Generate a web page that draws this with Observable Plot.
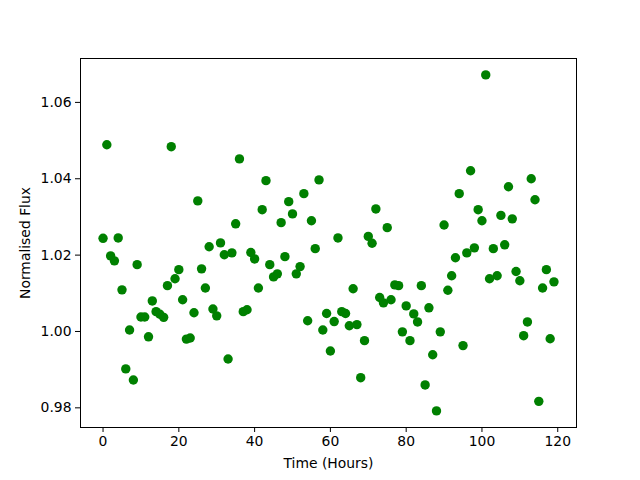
<!DOCTYPE html>
<html><head><meta charset="utf-8">
<script src="https://cdn.jsdelivr.net/npm/d3@7"></script>
<script src="https://cdn.jsdelivr.net/npm/@observablehq/plot@0.6"></script>
<style>body{margin:0;background:#fff}</style>
</head><body><div id="chart"></div>
<script>
const hours = [0,1,2,3,4,5,6,7,8,9,10,11,12,13,14,15,16,17,18,19,20,21,22,23,24,25,26,27,28,29,30,31,32,33,34,35,36,37,38,39,40,41,42,43,44,45,46,47,48,49,50,51,52,53,54,55,56,57,58,59,60,61,62,63,64,65,66,67,68,69,70,71,72,73,74,75,76,77,78,79,80,81,82,83,84,85,86,87,88,89,90,91,92,93,94,95,96,97,98,99,100,101,102,103,104,105,106,107,108,109,110,111,112,113,114,115,116,117,118,119];
const flux = [
1.0244,1.0489,1.0198,1.0185,1.0245,1.0109,0.9902,1.0004,0.9873,1.0175,
1.0038,1.0038,0.9986,1.0080,1.0052,1.0045,1.0037,1.0120,1.0484,1.0138,
1.0162,1.0083,0.9980,0.9983,1.0049,1.0342,1.0164,1.0114,1.0222,1.0059,
1.0041,1.0232,1.0201,0.9928,1.0206,1.0282,1.0452,1.0052,1.0057,1.0207,
1.0190,1.0114,1.0319,1.0395,1.0175,1.0143,1.0151,1.0285,1.0196,1.0340,
1.0308,1.0151,1.0170,1.0361,1.0028,1.0290,1.0217,1.0397,1.0004,1.0047,
0.9949,1.0026,1.0245,1.0052,1.0047,1.0015,1.0112,1.0018,0.9879,0.9976,
1.0249,1.0231,1.0321,1.0089,1.0075,1.0272,1.0083,1.0122,1.0120,0.9999,
1.0067,0.9976,1.0046,1.0025,1.0120,0.9860,1.0062,0.9939,0.9792,0.9999,
1.0279,1.0108,1.0146,1.0193,1.0361,0.9963,1.0206,1.0421,1.0219,1.0319,
1.0290,1.0672,1.0138,1.0217,1.0146,1.0304,1.0227,1.0379,1.0295,1.0157,
1.0133,0.9989,1.0025,1.0400,1.0345,0.9817,1.0114,1.0162,0.9981,1.0130];
const xTicks = [0,20,40,60,80,100,120];
const yTicks = [0.98,1.00,1.02,1.04,1.06];
const xLabel = "Time (Hours)";
const yLabel = "Normalised Flux";

const data = hours.map((h,i)=>({hour:h, flux:flux[i]}));

const chart = Plot.plot({
  width:640, height:480,
  marginLeft:80, marginRight:64, marginTop:58, marginBottom:53,
  style:{fontFamily:"DejaVu Sans", fontSize:"13.9px", color:"black", background:"white"},
  x:{domain:[-5.95,124.95]},
  y:{domain:[0.97485,1.0715]},
  marks:[
    Plot.axisX({ticks:xTicks, tickSize:5, tickPadding:4, tickFormat:d3.format("d"), label:xLabel, labelAnchor:"center", labelArrow:"none", labelOffset:40}),
    Plot.axisY({ticks:yTicks, tickSize:5, tickPadding:4, tickFormat:d3.format(".2f"), label:yLabel, labelAnchor:"center", labelArrow:"none", labelOffset:60}),
    Plot.dot(data,{x:"hour", y:"flux", r:4.7, fill:"#008000", stroke:"none"}),
    Plot.frame({stroke:"black", strokeWidth:1})
  ]
});
document.getElementById("chart").appendChild(chart);
</script>
</body></html>
